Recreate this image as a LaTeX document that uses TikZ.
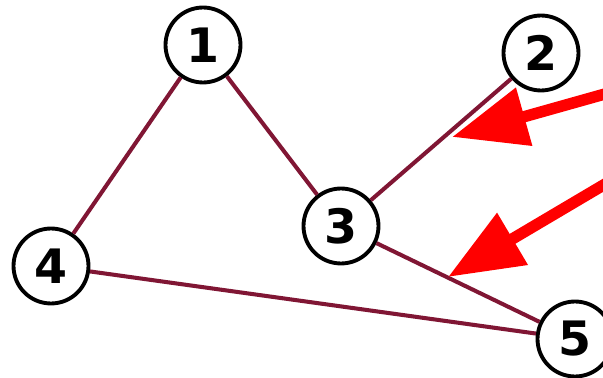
\documentclass[tikz,border=0pt]{standalone}
\usepackage{fontspec}
\setsansfont{DejaVu Sans}
\usetikzlibrary{arrows.meta}
\definecolor{edgered}{RGB}{128,22,52}
\definecolor{pointred}{RGB}{255,0,0}

\begin{document}
\begin{tikzpicture}[x=0.02cm,y=-0.02cm,
  vertex/.style={circle,draw,line width=2.2pt,fill=white,minimum size=1.5cm,inner sep=0pt,font=\sffamily\bfseries\fontsize{27}{27}\selectfont},
  link/.style={draw=edgered,line width=2.3pt},
  pointer/.style={draw=pointred,line width=6.5pt,-{Triangle[length=1.5cm,width=1.15cm]}}]
\useasboundingbox (0,0) rectangle (603,378);
\node (n1) [vertex] at (203,45) {1};
\node (n2) [vertex] at (541,53) {2};
\node (n3) [vertex] at (341,226) {3};
\node (n4) [vertex] at (51,266) {4};
\node (n5) [vertex] at (575,339) {5};
\coordinate (t1) at (612,92);
\coordinate (h1) at (452,137);
\coordinate (t2) at (612,180);
\coordinate (h2) at (448,277);
\draw[link] (n1) -- (n4);
\draw[link] (n1) -- (n3);
\draw[link] (n3) -- (n2);
\draw[link] (n3) -- (n5);
\draw[link] (n4) -- (n5);
\draw[pointer] (t1) -- (h1);
\draw[pointer] (t2) -- (h2);
\end{tikzpicture}
\end{document}
